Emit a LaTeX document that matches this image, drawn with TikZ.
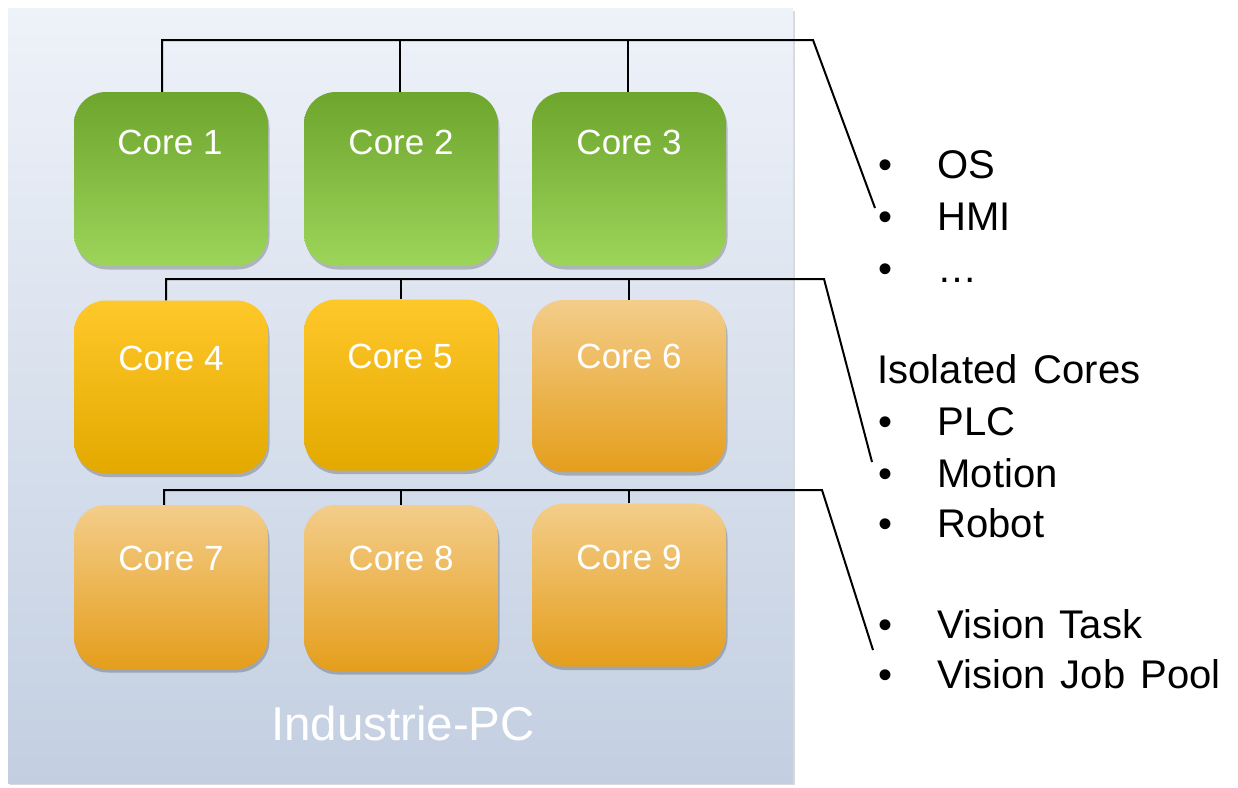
\documentclass[tikz,border=0pt]{standalone}
\usepackage{fontspec}
\setmainfont{Liberation Sans}
\usetikzlibrary{shadows,calc}
\definecolor{pantop}{HTML}{EEF2F9}
\definecolor{panbot}{HTML}{C3CFE1}
\definecolor{gtop}{HTML}{6DA52D}
\definecolor{gbot}{HTML}{9DD45A}
\definecolor{ytop}{HTML}{FFC82A}
\definecolor{ybot}{HTML}{E3A900}
\definecolor{otop}{HTML}{F3CD8A}
\definecolor{obot}{HTML}{E59E1C}
\tikzset{
  corebox/.style={rectangle, rounded corners=32pt, minimum width=194pt, inner sep=0pt,
    drop shadow={shadow xshift=1.5pt, shadow yshift=-3.5pt, fill=black, opacity=0.22}},
  green/.style={corebox, top color=gtop, bottom color=gbot},
  yellowc/.style={corebox, top color=ytop, bottom color=ybot},
  orangec/.style={corebox, top color=otop, bottom color=obot},
  coretxt/.style={anchor=base, text=white, font=\fontsize{35}{40}\selectfont},
  bus/.style={line width=2pt, black},
  rtxt/.style={anchor=base west, font=\fontsize{40}{46}\selectfont},
}
\begin{document}
\begin{tikzpicture}[x=1pt,y=-1pt]
\useasboundingbox (0,0) rectangle (1238,787);
% panel
\fill[black, opacity=0.15] (10,11) rectangle (795,785);
\node[rectangle, inner sep=0pt, minimum width=785pt, minimum height=775pt,
  top color=pantop, bottom color=panbot] (panel) at (400.5,395.5) {};
% cores
\node[green, minimum height=174pt] (c1) at (171,179) {};
\node[green, minimum height=174pt] (c2) at (401,179) {};
\node[green, minimum height=174pt] (c3) at (629,179) {};
\node[yellowc, minimum height=173pt] (c4) at (171,387) {};
\node[yellowc, minimum height=171pt] (c5) at (401,385) {};
\node[orangec, minimum height=172pt] (c6) at (629,386) {};
\node[orangec, minimum height=164pt] (c7) at (171,587) {};
\node[orangec, minimum height=166pt] (c8) at (401,588) {};
\node[orangec, minimum height=163pt] (c9) at (629,585) {};
\node[coretxt] (t1) at (170,154) {Core 1};
\node[coretxt] (t2) at (401,154) {Core 2};
\node[coretxt] (t3) at (629,154) {Core 3};
\node[coretxt] (t4) at (171,370) {Core 4};
\node[coretxt] (t5) at (400,368) {Core 5};
\node[coretxt] (t6) at (629,368) {Core 6};
\node[coretxt] (t7) at (171,570) {Core 7};
\node[coretxt] (t8) at (401,570) {Core 8};
\node[coretxt] (t9) at (629,569) {Core 9};
\node[anchor=base, text=white, font=\fontsize{47.5}{52}\selectfont] (pc) at (403,740) {Industrie-PC};
% bus coordinates
\coordinate (b1) at (813,40);
\coordinate (e1) at (875,208);
\coordinate (b2) at (824,279);
\coordinate (e2) at (872,462);
\coordinate (b3) at (822,490);
\coordinate (e3) at (873,650);
% connectors
\draw[bus] ([xshift=-9pt]c1.north) |- (b1) -- (e1);
\draw[bus] ([xshift=-1pt]c2.north) -- ([xshift=-1pt]c2.north |- b1);
\draw[bus] ([xshift=-1pt]c3.north) -- ([xshift=-1pt]c3.north |- b1);
\draw[bus] ([xshift=-5pt]c4.north) |- (b2) -- (e2);
\draw[bus] (c5.north) -- (c5.north |- b2);
\draw[bus] (c6.north) -- (c6.north |- b2);
\draw[bus] ([xshift=-7pt]c7.north) |- (b3) -- (e3);
\draw[bus] (c8.north) -- (c8.north |- b3);
\draw[bus] (c9.north) -- (c9.north |- b3);
% right text
\node[rtxt] (bu1) at (875,178) {•};
\node[rtxt] (l1) at (934,178) {OS};
\node[rtxt] (bu2) at (875,230) {•};
\node[rtxt] (l2) at (934,230) {HMI};
\node[rtxt] (bu3) at (875,282) {•};
\node[rtxt] (l3) at (934,282) {…};
\node[rtxt] (l4) at (874,383) {Isolated\hspace{5pt} Cores};
\node[rtxt] (bu5) at (875,435) {•};
\node[rtxt] (l5) at (934,435) {PLC};
\node[rtxt] (bu6) at (875,487) {•};
\node[rtxt] (l6) at (934,487) {Motion};
\node[rtxt] (bu7) at (875,537) {•};
\node[rtxt] (l7) at (934,537) {Robot};
\node[rtxt] (bu8) at (875,638) {•};
\node[rtxt] (l8) at (934,638) {Vision\hspace{3pt} Task};
\node[rtxt] (bu9) at (875,688) {•};
\node[rtxt] (l9) at (934,688) {Vision\hspace{4pt} Job\hspace{4pt} Pool};
\end{tikzpicture}
\end{document}
